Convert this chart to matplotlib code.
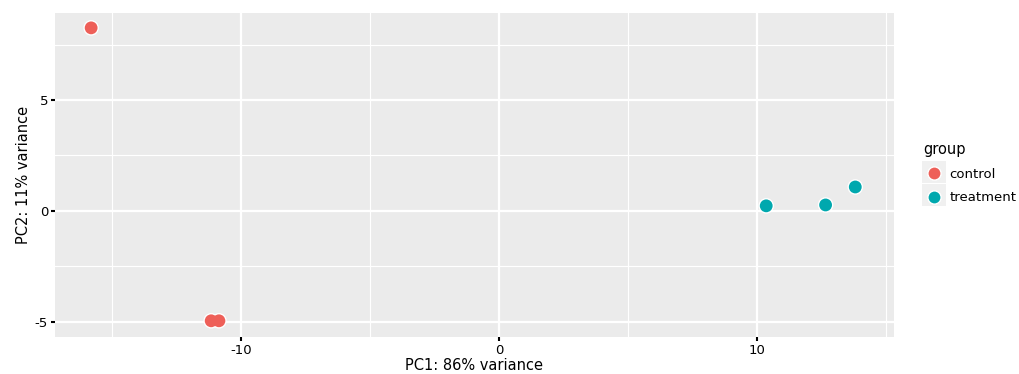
import matplotlib
matplotlib.use("Agg")
import matplotlib.pyplot as plt
from matplotlib.lines import Line2D
from matplotlib.patches import Rectangle

groups = ["control", "treatment"]
pc1_control = [-15.8, -11.15, -10.85]
pc2_control = [8.25, -4.95, -4.95]
pc1_treatment = [10.35, 12.65, 13.8]
pc2_treatment = [0.23, 0.27, 1.08]
colors = {"control": "#EE5F58", "treatment": "#00A8AE"}
x_ticks = [-10, 0, 10]
y_ticks = [-5, 0, 5]

W, H = 1020, 374
fig = plt.figure(figsize=(W/100, H/100), dpi=100)
ax = fig.add_axes([55/W, 1-337/H, (894-55)/W, (337-13)/H])
ax.set_facecolor("#EBEBEB")
ax.set_xlim(-17.2, 15.3)
ax.set_ylim(-5.68, 8.92)

for v in [-15, -5, 5, 15]:
    ax.axvline(v, color="white", lw=0.8, zorder=0)
for v in [-2.5, 2.5, 7.5]:
    ax.axhline(v, color="white", lw=0.8, zorder=0)
for v in x_ticks:
    ax.axvline(v, color="white", lw=1.6, zorder=0)
for v in y_ticks:
    ax.axhline(v, color="white", lw=1.6, zorder=0)

# white halo underneath, then fills on top so overlapping points merge
for xs, ys, g in ((pc1_control, pc2_control, "control"),
                  (pc1_treatment, pc2_treatment, "treatment")):
    ax.scatter(xs, ys, s=125, c="white", edgecolors="none", zorder=2)
    ax.scatter(xs, ys, s=85, c=colors[g], edgecolors="none", zorder=3)

ax.set_xticks(x_ticks)
ax.set_yticks(y_ticks)
ax.set_xticklabels([str(t) for t in x_ticks])
ax.set_yticklabels([str(t) for t in y_ticks])
ax.tick_params(axis="both", length=3, width=1.5, color="black", labelsize=9.5, pad=2)
for s in ax.spines.values():
    s.set_visible(False)
ax.set_xlabel("PC1: 86% variance", fontsize=10.5, labelpad=1)
ax.set_ylabel("PC2: 11% variance", fontsize=10.5, labelpad=3)

# legend key backgrounds
for y0 in (161, 184):
    fig.patches.append(Rectangle((922/W, 1-(y0+22)/H), 24/W, 22/H,
                                 transform=fig.transFigure, facecolor="#F0F0F0",
                                 edgecolor="none", zorder=0))

handles = [Line2D([], [], marker="o", ls="", markersize=9.5, markerfacecolor=colors[g],
                  markeredgecolor="white", markeredgewidth=1.0) for g in groups]
leg = fig.legend(handles, groups, title="group", loc="upper left",
                 bbox_to_anchor=(918/W, 1-137/H), frameon=False,
                 fontsize=9.5, title_fontsize=10.5, handletextpad=0.4,
                 labelspacing=0.8, borderaxespad=0, handlelength=1.6)
leg._legend_box.align = "left"

fig.savefig("out.png", dpi=100)
